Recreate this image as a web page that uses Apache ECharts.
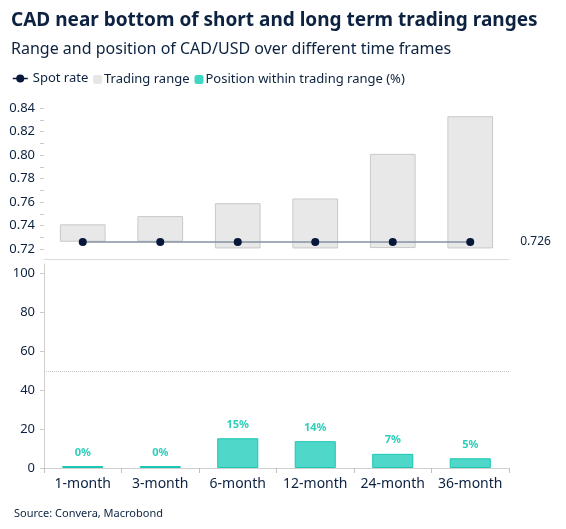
<!DOCTYPE html>
<html><head><meta charset="utf-8">
<script src="https://cdn.jsdelivr.net/npm/echarts@6/dist/echarts.min.js"></script>
<style>html,body{margin:0;padding:0;background:#fff}#c{width:566px;height:529px}</style>
</head><body><div id="c"></div>
<script>
const categories = ['1-month','3-month','6-month','12-month','24-month','36-month'];
const rangeLow  = [0.7262, 0.7262, 0.7205, 0.7205, 0.7208, 0.7205];
const rangeHigh = [0.741, 0.748, 0.759, 0.763, 0.801, 0.833];
const spotRate  = [0.726, 0.726, 0.726, 0.726, 0.726, 0.726];
const position  = [0, 0, 15.3, 13.8, 7.3, 5.0];
const topTicks  = [0.72, 0.74, 0.76, 0.78, 0.80, 0.82, 0.84];
const topMinor  = [0.72,0.73,0.74,0.75,0.76,0.77,0.78,0.79,0.80,0.81,0.82,0.83,0.84];
const botTicks  = [0, 20, 40, 60, 80, 100];

const NAVY = '#0c2240';
const FONT = 'Noto Sans';
const chart = echarts.init(document.getElementById('c'), null, {renderer:'canvas'});
chart.setOption({
  animation:false,
  textStyle:{fontFamily:FONT},
  title:[
    {text:'CAD near bottom of short and long term trading ranges', left:6, top:6,
     textStyle:{fontSize:19, fontWeight:'bold', color:NAVY, fontFamily:FONT}},
    {text:'Range and position of CAD/USD over different time frames', left:6, top:36,
     textStyle:{fontSize:16, fontWeight:'normal', color:NAVY, fontFamily:FONT}},
    {text:'Source: Convera, Macrobond', left:9, top:503,
     textStyle:{fontSize:11, fontWeight:'normal', color:NAVY, fontFamily:FONT}}
  ],
  legend:[
    {left:7, top:67, itemWidth:15, itemHeight:10, itemGap:6,
     textStyle:{fontSize:13, color:NAVY, fontFamily:FONT},
     data:[{name:'Spot rate', lineStyle:{color:'#08183a', width:1.5}, itemStyle:{color:'#08183a'}}]},
    {left:88, top:68, itemWidth:9, itemHeight:9, itemGap:5,
     textStyle:{fontSize:13, color:NAVY, fontFamily:FONT, padding:[0,0,0,-3]},
     data:[{name:'Trading range', itemStyle:{color:'#e6e6e6', borderWidth:0}},
           {name:'Position within trading range (%)', itemStyle:{color:'#3fd6c4', borderWidth:0}}]}
  ],
  grid:[
    {left:44, right:57, top:108, height:151},
    {left:44, right:57, top:264, height:204}
  ],
  xAxis:[
    {type:'category', gridIndex:0, data:categories,
     axisLine:{show:true, lineStyle:{color:'#dcdcdc'}}, axisTick:{show:false}, axisLabel:{show:false}},
    {type:'category', gridIndex:1, data:categories,
     axisLine:{show:true, lineStyle:{color:'#d0d0d0'}},
     axisTick:{show:true, alignWithLabel:false, length:5, lineStyle:{color:'#c0c0c0'}},
     axisLabel:{interval:0, fontSize:14, color:NAVY, margin:9, fontFamily:FONT}}
  ],
  yAxis:[
    {type:'value', gridIndex:0, min:0.7115, max:0.84,
     axisLine:{show:false}, splitLine:{show:false},
     axisTick:{show:true, length:4, customValues:topMinor, lineStyle:{color:'#c8c8c8'}},
     axisLabel:{customValues:topTicks, fontSize:13, color:NAVY, margin:9, fontFamily:FONT,
                formatter:v=>v.toFixed(2)}},
    {type:'value', gridIndex:1, min:0, max:105,
     axisLine:{show:true, lineStyle:{color:'#d0d0d0'}}, splitLine:{show:false},
     axisTick:{show:true, length:4, customValues:botTicks, lineStyle:{color:'#c8c8c8'}},
     axisLabel:{customValues:botTicks, fontSize:13, color:NAVY, margin:9, fontFamily:FONT}}
  ],
  series:[
    {name:'base', type:'bar', xAxisIndex:0, yAxisIndex:0, stack:'rng', barWidth:'59%',
     itemStyle:{color:'transparent'}, silent:true, data:rangeLow},
    {name:'Trading range', type:'bar', xAxisIndex:0, yAxisIndex:0, stack:'rng', barWidth:'59%',
     itemStyle:{color:'#e8e8e8', borderColor:'#c9c9c9', borderWidth:1},
     data:rangeHigh.map((h,i)=>+(h-rangeLow[i]).toFixed(5))},
    {name:'Spot rate', type:'line', xAxisIndex:0, yAxisIndex:0, data:spotRate,
     symbol:'circle', symbolSize:8, z:5,
     lineStyle:{color:'#8592a0', width:1.5},
     itemStyle:{color:'#08183a'},
     endLabel:{show:true, distance:50, fontSize:12, color:NAVY, fontFamily:FONT,
               formatter:p=>p.value.toFixed(3)}},
    {name:'Position within trading range (%)', type:'bar', xAxisIndex:1, yAxisIndex:1,
     barWidth:'53%', barMinHeight:2, z:3,
     itemStyle:{color:'#4fd8c9', borderColor:'#1cc6b2', borderWidth:1},
     label:{show:true, position:'top', distance:8, fontSize:11, fontWeight:'bold',
            color:'#2dcfba', fontFamily:FONT, formatter:p=>Math.round(p.value)+'%'},
     markLine:{silent:true, symbol:'none', label:{show:false},
               lineStyle:{type:'dotted', color:'#c4c4c4', width:1},
               data:[{yAxis:50}]},
     data:position}
  ]
});
</script></body></html>
